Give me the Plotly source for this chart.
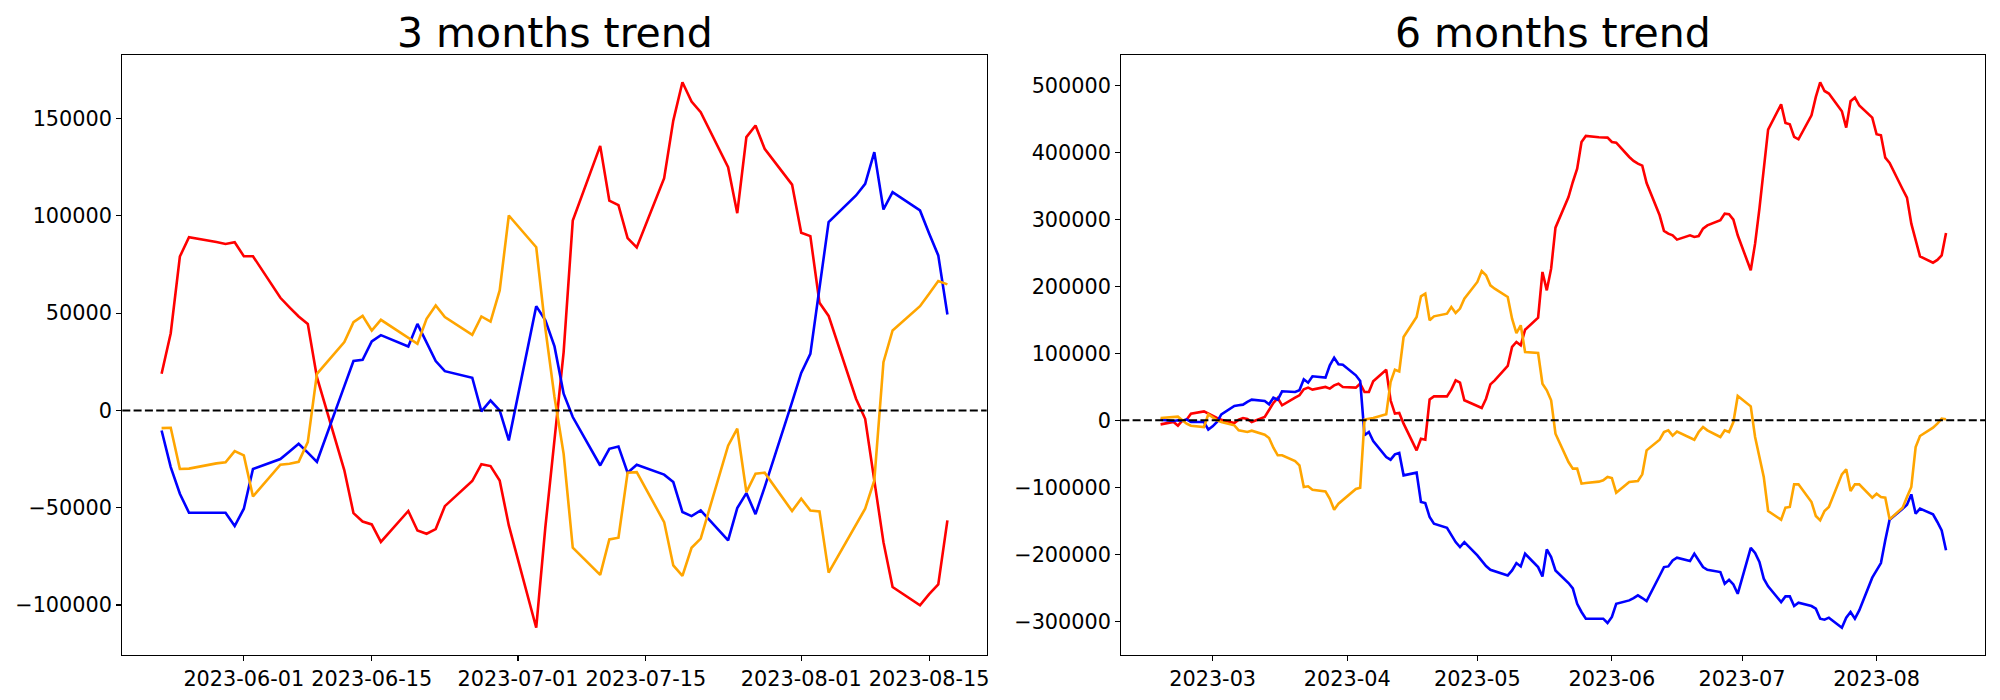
import pandas as pd
import plotly.graph_objects as go

# ---------------- 3 months (weekdays 2023-05-23 .. 2023-08-17) ----------------
dates_3m = pd.bdate_range("2023-05-23", "2023-08-17")

red_3m = [18900, 39700, 79100, 89100, 86600, 85600, 86500, 79300, 79300, 57900,
          53000, 48300, 44500, 17100, -30800, -52800, -57100, -58600, -67600, -51700,
          -61700, -63400, -61000, -49200, -36300, -27600, -28600, -36000, -59100, -111700,
          -60000, -13900, 30000, 97600, 136000, 107900, 105500, 88600, 83800, 119400,
          149000, 168700, 158800, 153300, 125000, 101400, 140500, 146500, 134500, 116100,
          91300, 89600, 55300, 48600, 6000, -4300, -36000, -67700, -90800, -100200,
          -94400, -89400, -56500]

blue_3m = [-10300, -29100, -42800, -52600, -52600, -52600, -59400, -50500, -30100, -25000,
           -21100, -17100, -21700, -26400, 12500, 25400, 26000, 35500, 38700, 32900,
           44500, 35100, 25400, 20200, 16800, -500, 5100, 0, -15400, 53600,
           46300, 32900, 8600, -3400, -28300, -19700, -18500, -32000, -27900, -33000,
           -36800, -52200, -54300, -51400, -66800, -50200, -42500, -53300, -39400, 4300,
           19300, 29100, 63200, 96800, 110500, 116500, 132800, 103300, 112200, 102800,
           91000, 79700, 49300]

orange_3m = [-9100, -8900, -30100, -29900, -27200, -26700, -20900, -23100, -44200, -27900,
             -27400, -26400, -16300, 18800, 35100, 45400, 48600, 41100, 46600, 37700,
             34300, 47100, 54000, 48000, 38900, 48300, 45700, 61700, 100200, 83900,
             42100, 6900, -22300, -70600, -84500, -66300, -65400, -32000, -31700, -57400,
             -79700, -85000, -70600, -65900, -18100, -9400, -42000, -32500, -32000, -51700,
             -45400, -51400, -51900, -83400, -58800, -50500, -36000, 24800, 41100, 53600,
             60000, 66500, 64800]

# ---------------- 6 months (weekdays 2023-02-17 .. 2023-08-17) ----------------
dates_6m = pd.bdate_range("2023-02-17", "2023-08-17")

red_6m = [-6000, -2500, -8000, -500, 1000, 10000, 13400, 10000,
          6500, 3500, 1000, -4000, 1000, 3500, 2000, -2500, 5000, 16000, 26000, 33300, 22400,
          33800, 37300, 46300, 48800, 45800, 49800, 47300, 52200, 54700, 49800,
          48800, 54700, 42300, 42300, 58200, 75600, 29900, 10000, 10900, -5000,
          -44800, -27400, -28900, 31300, 35800, 35800, 45800, 59700, 56200, 29900,
          21400, 18400, 32300, 53700, 59700, 81100, 109500, 116900, 111900, 135300,
          153200, 221400, 194000, 226400, 287600, 333300, 355700, 375600, 415400, 424400,
          422400, 421900, 421900,
          415400, 414400, 393000, 387100, 383100, 380100, 354200, 306000, 282600, 278600,
          276100, 269700, 276100, 273600, 275100, 286100, 291000, 298500, 308500, 307500,
          299500, 276100,
          223900, 263700, 315900, 373100, 433800, 471600, 443800, 441800, 422900, 419400,
          455200, 482600, 504500, 491500, 487600, 461200, 436800, 476100, 481600, 470100,
          451700,
          426900, 425400, 392000, 384100, 344800, 332300, 293500, 267200, 244800, 235300,
          239300, 246300, 279600]

blue_6m = [1000, -1000, 0, -1000, 1500, -2500, -2500, -13900,
           -9000, -2500, 9000, 21400, 22400, 23400, 27400, 30800, 28900, 23900, 33800, 30800,
           43300, 42300, 44800, 61200, 56200, 65700, 63700, 82100, 93500, 83600, 83100,
           67200, 58700, -22400, -17400, -30800, -54700, -58700, -50700, -48700, -82100,
           -78100, -121900, -123400, -144300, -154300, -160300, -171700, -181700, -189100, -181700,
           -201600, -209000, -217500, -223000, -225000, -231400, -224000, -213000, -218000, -199100,
           -219000, -233000, -192600, -204000, -224000, -242800, -250800, -273800, -286000, -296000,
           -296000, -296000, -302500,
           -293500, -273800, -268700, -265200, -261200, -265200, -269700, -231900, -219000, -218000,
           -209000, -205000, -210000, -199000, -209000, -219000, -223000, -226400, -243900, -237900,
           -244900, -258900,
           -190300, -198000, -211400, -236300, -247700, -271200, -262700, -262700, -277100, -272100,
           -277100, -281100, -296000, -297500, -294500, -309500, -294500, -286000, -296000, -283600,
           -234800,
           -223900, -213000, -179100, -148300, -131800, -125900, -110500, -139300, -131800, -140300,
           -151700, -164200, -194000]

orange_6m = [3500, 5000, 5500, 0, -5000, -8000, -10000, 9000,
             4000, 0, -2500, -7500, -14900, -16400, -17400, -15400, -21400, -26400, -40800, -52200,
             -52200, -60700, -67200, -99500, -98500, -103500, -106000, -117000, -133400, -124400, -118900,
             -102500, -100500, 1000, 2500, 3500, 9000, 57200, 75600, 73100, 124400,
             154300, 185100, 189000, 149300, 155200, 159200, 169200, 160200, 166700, 181600,
             206500, 222900, 216400, 201500, 196500, 184100, 151700, 130300, 141800, 102000,
             100500, 54700, 44800, 29900, -19900, -62200, -72100, -72100, -94500, -93500,
             -91500, -89600, -84600,
             -86100, -107900, -92000, -91000, -90500, -80600, -44800, -28900, -17400, -14900,
             -22900, -16900, -26400, -28900, -17400, -10000, -14900, -24900, -14900, -17400,
             -2500, 36300,
             20900, -24900, -54700, -84600, -135300, -148300, -130300, -129300, -95500, -95500,
             -121900, -142800, -149300, -135300, -129300, -80600, -73100, -105500, -95500, -95500,
             -115400,
             -109500, -114400, -115400, -147800, -130300, -114400, -99500, -39800, -23400, -10900,
             -5000, 2500, 1500]

titles = ["3 months trend", "6 months trend"]
xticks_3m = ["2023-06-01", "2023-06-15", "2023-07-01", "2023-07-15", "2023-08-01", "2023-08-15"]
xticks_6m = ["2023-03", "2023-04", "2023-05", "2023-06", "2023-07", "2023-08"]
yticks_3m = [-100000, -50000, 0, 50000, 100000, 150000]
yticks_6m = [-300000, -200000, -100000, 0, 100000, 200000, 300000, 400000, 500000]

FONT = "DejaVu Sans"
colors = {"red": "#ff0000", "blue": "#0000ff", "orange": "#ffa500"}


def fmt(v):
    # matplotlib uses the Unicode minus sign for negative tick labels
    return str(v).replace("-", "\u2212")


fig = go.Figure()

panels = [
    (dates_3m, red_3m, blue_3m, orange_3m, "x", "y"),
    (dates_6m, red_6m, blue_6m, orange_6m, "x2", "y2"),
]
for d, r, b, o, xa, ya in panels:
    for name, vals in (("red", r), ("blue", b), ("orange", o)):
        fig.add_trace(go.Scatter(x=d, y=vals, mode="lines", xaxis=xa, yaxis=ya,
                                 line=dict(color=colors[name], width=2.6),
                                 showlegend=False, hoverinfo="skip"))


def xr(d):
    span = d[-1] - d[0]
    return [d[0] - span * 0.05, d[-1] + span * 0.05]


def yr(*series):
    lo = min(min(s) for s in series)
    hi = max(max(s) for s in series)
    m = (hi - lo) * 0.05
    return [lo - m, hi + m]


W, H = 2000, 700
dom_l = [122.3 / W, 986.7 / W]
dom_r = [1121.3 / W, 1985.3 / W]
dom_y = [45 / H, 645 / H]

axis_common = dict(showgrid=False, zeroline=False, showline=True, mirror=True,
                   linecolor="black", linewidth=1.1, ticks="outside", ticklen=5,
                   tickwidth=1.1, tickcolor="black", automargin=False,
                   tickfont=dict(family=FONT, size=20.8, color="black"))

fig.update_layout(
    width=W, height=H,
    margin=dict(l=0, r=0, t=0, b=0, autoexpand=False),
    paper_bgcolor="white", plot_bgcolor="white",
    font=dict(family=FONT, color="black"),
    xaxis=dict(domain=dom_l, anchor="y", type="date", range=xr(dates_3m),
               tickvals=xticks_3m, ticktext=xticks_3m, **axis_common),
    yaxis=dict(domain=dom_y, anchor="x", range=yr(red_3m, blue_3m, orange_3m),
               tickvals=yticks_3m, ticktext=[fmt(v) for v in yticks_3m], **axis_common),
    xaxis2=dict(domain=dom_r, anchor="y2", type="date", range=xr(dates_6m),
                tickvals=[t + "-01" for t in xticks_6m], ticktext=xticks_6m, **axis_common),
    yaxis2=dict(domain=dom_y, anchor="x2", range=yr(red_6m, blue_6m, orange_6m),
                tickvals=yticks_6m, ticktext=[fmt(v) for v in yticks_6m], **axis_common),
)

for xa, ya in (("x", "y"), ("x2", "y2")):
    fig.add_shape(type="line", xref=f"{xa} domain", yref=ya, x0=0, x1=1, y0=0, y1=0,
                  line=dict(color="black", width=2, dash="8px,3.3px"), layer="above")

for title, dom in zip(titles, (dom_l, dom_r)):
    fig.add_annotation(text=title, xref="paper", yref="paper",
                       x=(dom[0] + dom[1]) / 2, y=1 - 33 / H,
                       xanchor="center", yanchor="middle", showarrow=False,
                       font=dict(family=FONT, size=41, color="black"))

fig.write_html("out.html",
               config={"displayModeBar": False, "staticPlot": True},
               post_script="document.body.style.margin='0px';"
                           "document.body.style.overflow='hidden';")
